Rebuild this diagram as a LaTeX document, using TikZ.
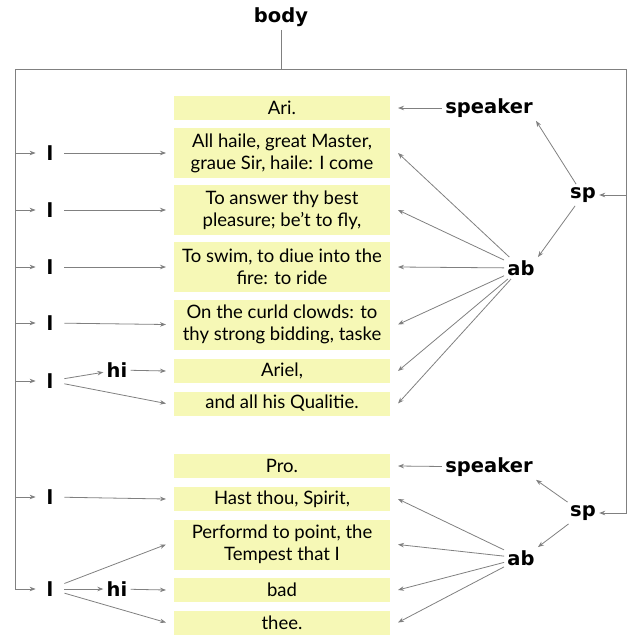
\documentclass[tikz,border=0pt]{standalone}
\usepackage{fontspec}
\setmainfont{Lato}
\newfontfamily\lblfont{DejaVu Sans}
\usetikzlibrary{arrows.meta}

\definecolor{boxyellow}{RGB}{246,248,182}
\definecolor{linegray}{RGB}{128,128,128}

\tikzset{
  txt/.style={fill=boxyellow, minimum width=216pt, inner sep=0pt, outer sep=8pt,
    align=center, font=\fontsize{18.5}{22}\selectfont},
  oneline/.style={txt, minimum height=24pt},
  twoline/.style={txt, minimum height=50pt},
  lbl/.style={font=\lblfont\bfseries\fontsize{19.5}{24}\selectfont, inner sep=3pt},
  ibar/.style={lbl, minimum width=28pt, inner sep=0pt},
  arr/.style={->, linegray},
}

\begin{document}
\begin{tikzpicture}[x=1pt, y=-1pt, line width=0.8pt, >={Stealth[length=6pt,width=4.5pt]}]
    \useasboundingbox (0,0) rectangle (628,635);

    \node[lbl] (body) at (281,17) {body};

    % text lines, first speech
    \node[oneline] (b1) at (282,108) {Ari.};
    \node[twoline] (b2) at (282,153) {All haile, great Master,\\graue Sir, haile: I come};
    \node[twoline] (b3) at (282,210) {To answer thy best\\pleasure; be't to fly,};
    \node[twoline] (b4) at (282,267) {To swim, to diue into the\\fire: to ride};
    \node[twoline] (b5) at (282,324.5) {On the curld clowds: to\\thy strong bidding, taske};
    \node[oneline] (b6) at (282,371) {Ariel,};
    \node[oneline] (b7) at (282,403.5) {and all his Qualitie.};

    % text lines, second speech
    \node[oneline] (b8) at (282,466) {Pro.};
    \node[oneline] (b9) at (282,499) {Hast thou, Spirit,};
    \node[twoline] (b10) at (282,544.5) {Performd to point, the\\Tempest that I};
    \node[oneline] (b11) at (282,590) {bad};
    \node[oneline] (b12) at (282,622.5) {thee.};

    % line labels
    \node[ibar] (i1) at (50,153) {l};
    \node[ibar] (i2) at (50,210) {l};
    \node[ibar] (i3) at (50,267) {l};
    \node[ibar] (i4) at (50,323) {l};
    \node[ibar] (i5) at (50,381) {l};
    \node[ibar] (i6) at (50,497) {l};
    \node[ibar] (i7) at (50,589) {l};
    \node[lbl] (hi1) at (117,370) {hi};
    \node[lbl] (hi2) at (117,589) {hi};

    % speech labels
    \node[lbl] (spk1) at (489,108) {speaker};
    \node[lbl] (sp1) at (583,195) {sp};
    \node[lbl] (ab1) at (521,268) {ab};
    \node[lbl] (spk2) at (489,467) {speaker};
    \node[lbl] (sp2) at (583,513) {sp};
    \node[lbl] (ab2) at (521,558) {ab};

    % body frame
    \coordinate (ftop) at (281,69);
    \coordinate (ftl) at (15,69);
    \coordinate (ftr) at (626,69);
    \draw[linegray] (body) -- (ftop);
    \draw[linegray] (ftl) -- (ftr);

    % body -> l
    \draw[arr] (ftl) |- (i7);
    \foreach \n in {i1,i2,i3,i4,i5,i6}
        \draw[arr] (ftl |- \n) -- (\n);

    % body -> sp
    \draw[arr] (ftr) |- (sp2);
    \draw[arr] (ftr |- sp1) -- (sp1);

    % l -> text
    \draw[arr] (i1) -- (b2.west);
    \draw[arr] (i2) -- (b3.west);
    \draw[arr] (i3) -- (b4.west);
    \draw[arr] (i4) -- (b5.west);
    \draw[arr] (i5) -- (hi1);
    \draw[arr] (hi1) -- (b6.west);
    \draw[arr] (i5) -- (b7.west);
    \draw[arr] (i6) -- (b9.west);
    \draw[arr] (i7) -- (b10.west);
    \draw[arr] (i7) -- (hi2);
    \draw[arr] (hi2) -- (b11.west);
    \draw[arr] (i7) -- (b12.west);

    % sp -> speaker, ab
    \draw[arr] (sp1) -- (spk1.south east);
    \draw[arr] (sp1) -- (ab1.north east);
    \draw[arr] (spk1) -- (b1.east);
    \draw[arr] (sp2) -- (spk2.south east);
    \draw[arr] (sp2) -- (ab2.north east);
    \draw[arr] (spk2) -- (b8.east);

    % ab -> text
    \foreach \n in {b2,b3,b4,b5,b6,b7}
        \draw[arr] (ab1) -- (\n.east);
    \foreach \n in {b9,b10,b11,b12}
        \draw[arr] (ab2) -- (\n.east);
\end{tikzpicture}
\end{document}
